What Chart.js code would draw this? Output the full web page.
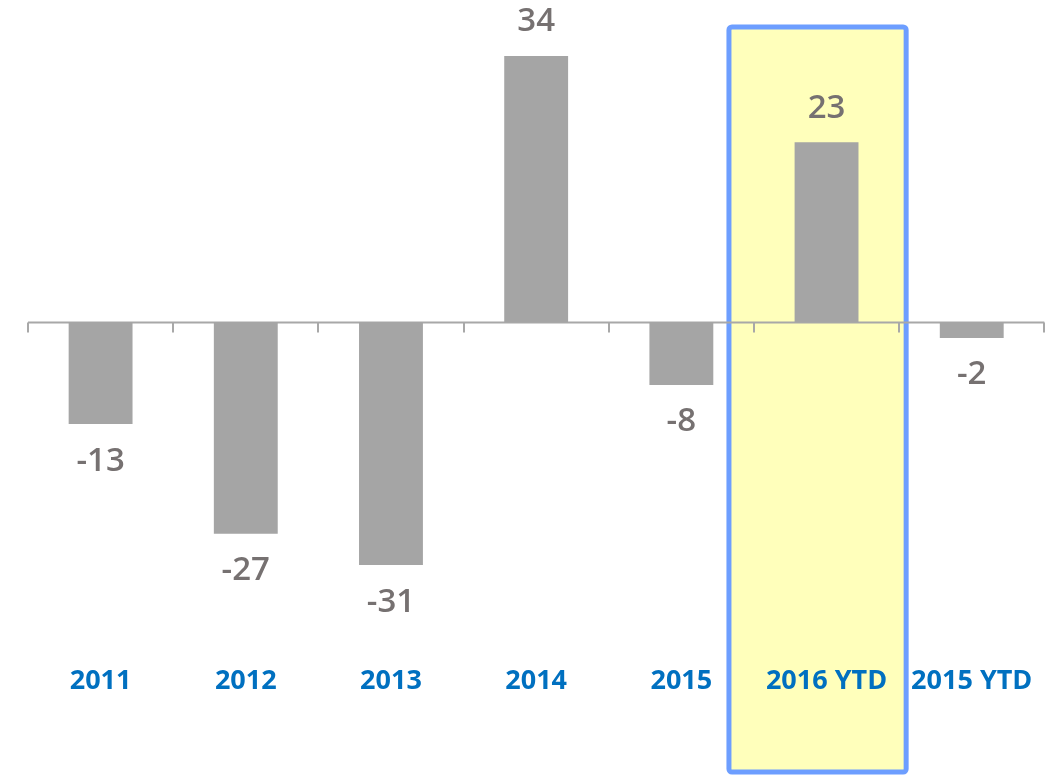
<!DOCTYPE html>
<html>
<head>
<meta charset="utf-8">
<script src="https://cdn.jsdelivr.net/npm/chart.js@4/dist/chart.umd.min.js"></script>
<style>
  html, body { margin: 0; padding: 0; background: #fff; }
  #wrap { width: 1055px; height: 775px; position: relative; }
</style>
</head>
<body>
<div id="wrap"><canvas id="flowChart"></canvas></div>
<script>
// --- data ---
const categories = ['2011', '2012', '2013', '2014', '2015', '2016 YTD', '2015 YTD'];
const values = [-13, -27, -31, 34, -8, 23, -2];
const highlightIndex = 5;

const FONT = "'Open Sans', 'Noto Sans', sans-serif";

// axis line at zero with tick marks on category boundaries
const zeroAxis = {
    id: 'zeroAxis',
    beforeDatasetsDraw(chart) {
        const { ctx, chartArea, scales: { x, y } } = chart;
        const half = (x.getPixelForTick(1) - x.getPixelForTick(0)) / 2;
        const y0 = Math.round(y.getPixelForValue(0)) + 0.5;
        ctx.save();
        ctx.strokeStyle = '#a8a8a8';
        ctx.lineWidth = 2;
        ctx.beginPath();
        ctx.moveTo(chartArea.left, y0);
        ctx.lineTo(chartArea.right, y0);
        for (let i = 0; i <= categories.length; i++) {
            const px = Math.round(x.getPixelForTick(0) - half + i * half * 2);
            ctx.moveTo(px, y0);
            ctx.lineTo(px, y0 + 10);
        }
        ctx.stroke();
        ctx.restore();
    }
};

// yellow highlight box behind the 2016 YTD column
const highlight = {
    id: 'highlight',
    beforeDraw(chart) {
        const { ctx, scales: { x } } = chart;
        const half = (x.getPixelForTick(1) - x.getPixelForTick(0)) / 2;
        const c = x.getPixelForTick(highlightIndex);
        const left = c - half - 25;
        const right = c + half + 7;
        const top = 27, bottom = 772;
        ctx.save();
        ctx.fillStyle = '#ffffbb';
        ctx.strokeStyle = '#6d9eff';
        ctx.lineWidth = 5;
        ctx.beginPath();
        ctx.roundRect(left, top, right - left, bottom - top, 3);
        ctx.fill();
        ctx.stroke();
        ctx.restore();
    }
};

// value labels above/below bars
const valueLabels = {
    id: 'valueLabels',
    afterDatasetsDraw(chart) {
        const { ctx } = chart;
        const meta = chart.getDatasetMeta(0);
        ctx.save();
        ctx.fillStyle = '#767171';
        ctx.font = '600 33px ' + FONT;
        ctx.textAlign = 'center';
        ctx.textBaseline = 'middle';
        meta.data.forEach((bar, i) => {
            const v = values[i];
            const yy = v >= 0 ? bar.y - 34 : bar.y + 37;
            ctx.fillText(String(v), bar.x, yy);
        });
        ctx.restore();
    }
};

new Chart(document.getElementById('flowChart'), {
    type: 'bar',
    data: {
        labels: categories,
        datasets: [{
            data: values,
            backgroundColor: '#a5a5a5',
            borderWidth: 0,
            barPercentage: 0.44,
            categoryPercentage: 1
        }]
    },
    options: {
        responsive: true,
        maintainAspectRatio: false,
        animation: false,
        layout: { padding: { top: 9, left: 28, right: 9, bottom: 55 } },
        plugins: {
            legend: { display: false },
            tooltip: { enabled: false }
        },
        scales: {
            x: {
                grid: { display: false },
                border: { display: false },
                ticks: {
                    color: '#0070c0',
                    padding: 22,
                    maxRotation: 0,
                    autoSkip: false,
                    font: { family: FONT, size: 27, weight: 'bold' }
                }
            },
            y: {
                display: false,
                min: -40,
                max: 40
            }
        }
    },
    plugins: [highlight, zeroAxis, valueLabels]
});
</script>
</body>
</html>
